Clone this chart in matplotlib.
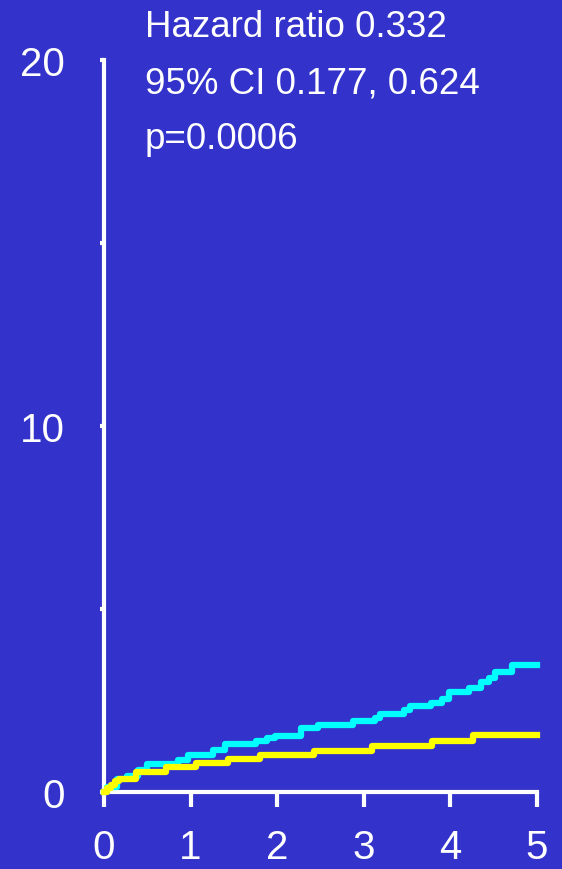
import matplotlib
matplotlib.use('Agg')
import matplotlib.pyplot as plt

# Cumulative incidence (%) step curves
years_cyan = [0.0, 0.03, 0.15, 0.27, 0.39, 0.50, 0.85, 0.97, 1.26, 1.40, 1.75, 1.88, 1.97,
              2.28, 2.47, 2.88, 3.13, 3.19, 3.46, 3.53, 3.78, 3.90, 3.98, 4.21, 4.35, 4.45,
              4.52, 4.71, 5.0]
pct_cyan = [0.0, 0.13, 0.36, 0.45, 0.59, 0.76, 0.88, 1.01, 1.16, 1.31, 1.40, 1.47, 1.54,
            1.74, 1.83, 1.94, 2.03, 2.12, 2.25, 2.35, 2.43, 2.55, 2.72, 2.85, 3.0, 3.12,
            3.27, 3.47, 3.47]

years_yellow = [0.0, 0.03, 0.08, 0.13, 0.17, 0.37, 0.72, 1.06, 1.43, 1.80, 2.42, 3.09,
                3.79, 4.26, 5.0]
pct_yellow = [0.0, 0.1, 0.2, 0.3, 0.36, 0.56, 0.67, 0.78, 0.90, 1.02, 1.13, 1.27, 1.40,
              1.56, 1.56]

x_ticks = [0, 1, 2, 3, 4, 5]
y_ticks = [0, 5, 10, 15, 20]
y_ticklabels = ['0', '', '10', '', '20']
stats_lines = ['Hazard ratio 0.332', '95% CI 0.177, 0.624', 'p=0.0006']

bg = '#3333cc'
plt.rcParams['font.family'] = ['Liberation Sans', 'DejaVu Sans']

fig = plt.figure(figsize=(5.62, 8.7), dpi=100, facecolor=bg)
ax = fig.add_axes([104/562, 1 - 793/870, (537 - 104)/562, (793 - 61)/870])
ax.set_facecolor(bg)

ax.step(years_cyan, pct_cyan, where='post', color='#00ffff', lw=4.5, clip_on=False, zorder=3)
ax.step(years_yellow, pct_yellow, where='post', color='#ffff00', lw=4.5, clip_on=False, zorder=4)

ax.set_xlim(0, 5)
ax.set_ylim(0, 20)
ax.set_xticks(x_ticks)
ax.set_xticklabels([str(t) for t in x_ticks])
ax.set_yticks(y_ticks)
ax.set_yticklabels(y_ticklabels)

for side in ['top', 'right']:
    ax.spines[side].set_visible(False)
for side in ['left', 'bottom']:
    ax.spines[side].set_color('white')
    ax.spines[side].set_linewidth(3)

ax.tick_params(axis='x', colors='white', length=11, width=3, pad=15, labelsize=29)
ax.tick_params(axis='y', colors='white', length=3, width=3, pad=25, labelsize=29)

# stats annotation
for i, line in enumerate(stats_lines):
    fig.text(145/562, 1 - (37 + 56*i)/870, line, color='white', fontsize=26.5,
             ha='left', va='baseline')

fig.savefig('out.png', dpi=100, facecolor=bg)
